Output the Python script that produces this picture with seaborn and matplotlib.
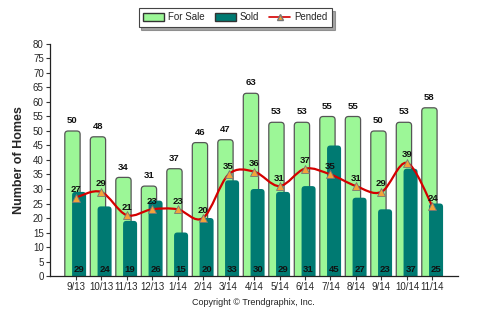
import numpy as np
import pandas as pd
import matplotlib
matplotlib.use("Agg")
import matplotlib.pyplot as plt
import seaborn as sns
from matplotlib.path import Path
from matplotlib.patches import PathPatch, Patch, FancyBboxPatch
from matplotlib.lines import Line2D

months = ["9/13", "10/13", "11/13", "12/13", "1/14", "2/14", "3/14", "4/14",
          "5/14", "6/14", "7/14", "8/14", "9/14", "10/14", "11/14"]
for_sale = [50, 48, 34, 31, 37, 46, 47, 63, 53, 53, 55, 55, 50, 53, 58]
sold = [29, 24, 19, 26, 15, 20, 33, 30, 29, 31, 45, 27, 23, 37, 25]
pended = [27, 29, 21, 23, 23, 20, 35, 36, 31, 37, 35, 31, 29, 39, 24]

C_SALE = "#9CF797"
C_SOLD = "#007A72"
C_LINE = "#D40000"
C_MARK = "#F2A33A"
EDGE = "#555555"

sns.set_style("white")
plt.rcParams["font.family"] = ["Liberation Sans", "DejaVu Sans"]

fig = plt.figure(figsize=(4.88, 3.23), dpi=100)
ax = fig.add_axes([0.1025, 0.1455, 0.836, 0.7183])

df = pd.DataFrame({"month": months * 2,
                   "value": for_sale + sold,
                   "series": ["For Sale"] * len(months) + ["Sold"] * len(months)})
sns.barplot(data=df, x="month", y="value", hue="series", order=months,
            hue_order=["For Sale", "Sold"], palette=[C_SALE, C_SOLD],
            dodge=True, legend=False, ax=ax, edgecolor=EDGE, linewidth=0.9,
            saturation=1)

# reshape seaborn's bars into overlapping, round-topped bars
n = len(months)
patches = list(ax.patches)
aspect = 8.8  # (px per x unit) / (px per y unit)
specs = [(patches[:n], 0.2, -0.12, 0.6, C_SALE, EDGE, 0.9, 2),
         (patches[n:2 * n], -0.2, 0.14, 0.55, C_SOLD, "none", 0, 3)]
for plist, back, off, w, fc, ec, lw, z in specs:
    for p in plist:
        cx = p.get_x() + p.get_width() / 2 + back + off
        h = p.get_height()
        p.set_visible(False)
        fb = FancyBboxPatch((cx - w / 2, -3), w, h + 3,
                            boxstyle="round,pad=0,rounding_size=0.13",
                            mutation_aspect=aspect, facecolor=fc, edgecolor=ec,
                            linewidth=lw, zorder=z)
        ax.add_patch(fb)

# smooth pended line via Catmull-Rom -> cubic Bezier path
x = np.arange(n, dtype=float)
y = np.array(pended, dtype=float)
verts = [(x[0], y[0])]
codes = [Path.MOVETO]
for i in range(n - 1):
    p0 = np.array([x[max(i - 1, 0)], y[max(i - 1, 0)]])
    p1 = np.array([x[i], y[i]])
    p2 = np.array([x[i + 1], y[i + 1]])
    p3 = np.array([x[min(i + 2, n - 1)], y[min(i + 2, n - 1)]])
    c1 = p1 + (p2 - p0) / 6.0
    c2 = p2 - (p3 - p1) / 6.0
    verts += [tuple(c1), tuple(c2), tuple(p2)]
    codes += [Path.CURVE4] * 3
ax.add_patch(PathPatch(Path(verts, codes), facecolor="none", edgecolor=C_LINE,
                       lw=1.6, zorder=4))
ax.plot(x, y, linestyle="none", marker="^", markersize=6,
        markerfacecolor=C_MARK, markeredgecolor="#777777", markeredgewidth=0.6,
        zorder=5)

lab_kw = dict(ha="center", fontsize=6.8, fontweight="bold", color="#111111", zorder=6)
for i in range(n):
    ax.text(i - 0.12, for_sale[i] + 2.0, str(for_sale[i]), va="bottom", **lab_kw)
    ax.text(i + 0.14, 0.8, str(sold[i]), va="bottom", **lab_kw)
    ax.text(i, pended[i] + 1.2, str(pended[i]), va="bottom", **lab_kw)

ax.set_xlim(-1, 15)
ax.set_ylim(0, 80)
ax.set_yticks(range(0, 81, 5))
ax.set_xticks(range(n))
ax.set_xticklabels(months)
ax.tick_params(axis="both", labelsize=7, length=3, width=0.8, color="#333333",
               direction="out", pad=1.5, left=True, bottom=True)
ax.set_xlabel("")
ax.set_ylabel("Number of Homes", fontsize=9, fontweight="bold", labelpad=6)
sns.despine(ax=ax)
for s in ["left", "bottom"]:
    ax.spines[s].set_color("#222222")
    ax.spines[s].set_linewidth(0.9)
    ax.spines[s].set_zorder(7)

handles = [Patch(facecolor=C_SALE, edgecolor="#333333", label="For Sale"),
           Patch(facecolor=C_SOLD, edgecolor="#333333", label="Sold"),
           Line2D([0], [0], color=C_LINE, lw=1.2, marker="^", markersize=4,
                  markerfacecolor=C_MARK, markeredgecolor="#777777", label="Pended")]
leg = fig.legend(handles=handles, loc="upper center", bbox_to_anchor=(0.482, 0.99),
                 ncol=3, fontsize=7, frameon=True, fancybox=False, shadow=True,
                 handlelength=2.2, handleheight=0.8, columnspacing=1.0,
                 handletextpad=0.4, borderpad=0.45)
leg.get_frame().set_edgecolor("#444444")
leg.get_frame().set_linewidth(0.8)

fig.text(0.52, 0.065, "Copyright \u00a9 Trendgraphix, Inc.", ha="center", va="center",
         fontsize=6.5, color="#222222")

fig.savefig("out.png", dpi=100)
